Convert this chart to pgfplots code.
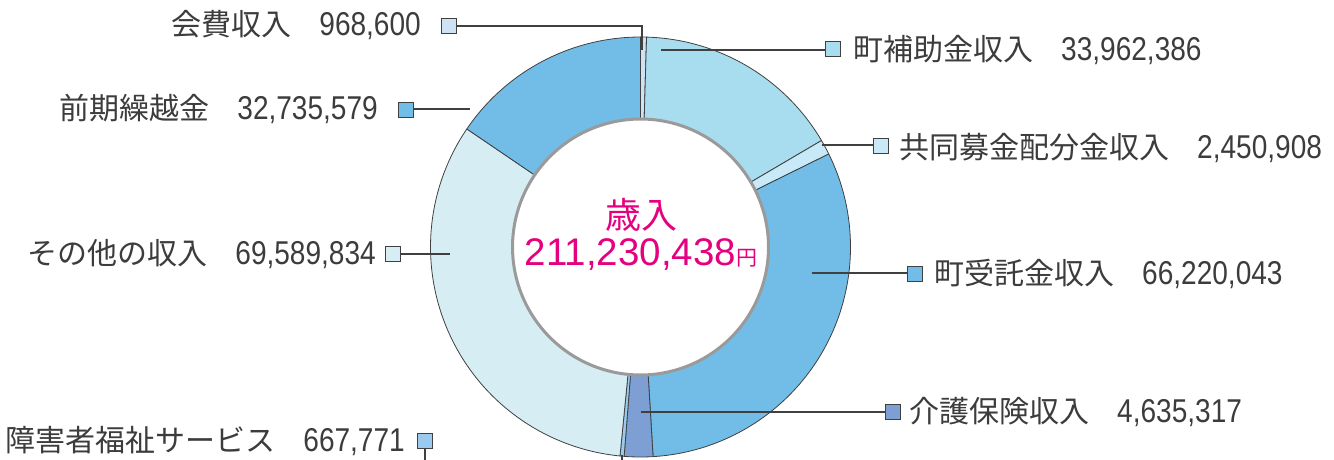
\documentclass[border=0pt]{standalone}
\usepackage{pgfplots}
\pgfplotsset{compat=1.18}
\usepackage{pgfplotstable}
\usepackage{fontspec}
\setmainfont{Noto Sans CJK JP}
\newfontfamily\jpfont{Noto Sans CJK JP}
\newfontfamily\numfont[FakeStretch=0.85]{Liberation Sans}
\newfontfamily\bignumfont{Liberation Sans}

\definecolor{txt}{HTML}{3C3C3C}
\definecolor{edge}{HTML}{404040}
\definecolor{ring}{HTML}{9A9A9A}
\definecolor{pink}{HTML}{E5007F}
\definecolor{c0}{HTML}{CFE2F3}
\definecolor{c1}{HTML}{A8DDF0}
\definecolor{c2}{HTML}{C8EAF8}
\definecolor{c3}{HTML}{72BDE7}
\definecolor{c4}{HTML}{7D9FD3}
\definecolor{c5}{HTML}{9CCAEE}
\definecolor{c6}{HTML}{D6EEF3}
\definecolor{c7}{HTML}{72BDE7}

% income (yen), clockwise from 12 o'clock
\pgfplotstableread{
id value
0 968600
1 33962386
2 2450908
3 66220043
4 4635317
5 667771
6 69589834
7 32735579
}\income

\def\acc{0}
\def\total{0}
\pgfplotsforeachungrouped \i in {0,...,7}{%
  \pgfplotstablegetelem{\i}{value}\of\income
  \xdef\total{\fpeval{\total+\pgfplotsretval}}%
}
\pgfplotsforeachungrouped \i in {0,...,7}{%
  \pgfplotstablegetelem{\i}{value}\of\income
  \expandafter\xdef\csname s\i\endcsname{\fpeval{round(360*\acc/\total,4)}}%
  \xdef\acc{\fpeval{\acc+\pgfplotsretval}}%
  \expandafter\xdef\csname e\i\endcsname{\fpeval{round(360*\acc/\total,4)}}%
}

\newcommand\lab[1]{{\jpfont\fontsize{30}{34}\selectfont #1}}
\newcommand\nm[1]{{\numfont\fontsize{33}{36}\selectfont #1}}

\begin{document}
\begin{tikzpicture}
\begin{axis}[x=1pt,y=1pt,xmin=0,xmax=1334,ymin=0,ymax=460,y dir=reverse,
  hide axis, clip=false, samples=120, scale only axis]
\pgfplotsinvokeforeach{0,...,7}{%
  \edef\doslice{\noexpand\addplot[fill=c#1, draw=edge, line width=0.8pt, line join=round, domain=\csname s#1\endcsname:\csname e#1\endcsname]}%
  \doslice ({640.5+210*sin(x)},{247-210*cos(x)}) -- (axis cs:640.5,247) -- cycle;
}
\addplot[fill=white, draw=ring, line width=3pt, domain=0:360, samples=180] ({640.5+128*sin(x)},{247-128*cos(x)}) -- cycle;

% leader lines
\addplot[edge, line width=1.1pt] coordinates {(457,26) (642,26) (642,50)};
\addplot[edge, line width=1.1pt] coordinates {(661,50) (825,50)};
\addplot[edge, line width=1.1pt] coordinates {(822,145) (873,145)};
\addplot[edge, line width=1.1pt] coordinates {(812,273) (907,273)};
\addplot[edge, line width=1.1pt] coordinates {(641,412) (885,412)};
\addplot[edge, line width=1.1pt] coordinates {(425,448) (425,460)};
\addplot[edge, line width=1.1pt] coordinates {(622,455) (622,460)};
\addplot[edge, line width=1.1pt] coordinates {(400,254) (450,254)};
\addplot[edge, line width=1.1pt] coordinates {(414,109) (470,109)};

% squares
\addplot[only marks, mark=square*, mark size=7.5pt, mark options={fill=c0, draw=edge, line width=1pt}] coordinates {(448.5,26)};
\addplot[only marks, mark=square*, mark size=7.5pt, mark options={fill=c1, draw=edge, line width=1pt}] coordinates {(833,49.5)};
\addplot[only marks, mark=square*, mark size=7.5pt, mark options={fill=c2, draw=edge, line width=1pt}] coordinates {(880.5,145.5)};
\addplot[only marks, mark=square*, mark size=7.5pt, mark options={fill=c3, draw=edge, line width=1pt}] coordinates {(914.5,273.5)};
\addplot[only marks, mark=square*, mark size=7.5pt, mark options={fill=c4, draw=edge, line width=1pt}] coordinates {(892.5,412)};
\addplot[only marks, mark=square*, mark size=7.5pt, mark options={fill=c5, draw=edge, line width=1pt}] coordinates {(425,440.5)};
\addplot[only marks, mark=square*, mark size=7.5pt, mark options={fill=c6, draw=edge, line width=1pt}] coordinates {(393,254)};
\addplot[only marks, mark=square*, mark size=7.5pt, mark options={fill=c7, draw=edge, line width=1pt}] coordinates {(405.5,109.5)};

% labels
\node[anchor=base east, inner sep=0, text=txt] at (axis cs:421,36) {\lab{会費収入}\hspace{28pt}\nm{968,600}};
\node[anchor=base east, inner sep=0, text=txt] at (axis cs:378,120) {\lab{前期繰越金}\hspace{28pt}\nm{32,735,579}};
\node[anchor=base east, inner sep=0, text=txt] at (axis cs:376,264) {\lab{その他の収入}\hspace{28pt}\nm{69,589,834}};
\node[anchor=base east, inner sep=0, text=txt] at (axis cs:405,451) {\lab{障害者福祉サービス}\hspace{28pt}\nm{667,771}};
\node[anchor=base west, inner sep=0, text=txt] at (axis cs:853,61) {\lab{町補助金収入}\hspace{28pt}\nm{33,962,386}};
\node[anchor=base west, inner sep=0, text=txt] at (axis cs:899,158) {\lab{共同募金配分金収入}\hspace{28pt}\nm{2,450,908}};
\node[anchor=base west, inner sep=0, text=txt] at (axis cs:934,284) {\lab{町受託金収入}\hspace{28pt}\nm{66,220,043}};
\node[anchor=base west, inner sep=0, text=txt] at (axis cs:909,422) {\lab{介護保険収入}\hspace{28pt}\nm{4,635,317}};

% centre
\node[anchor=base, inner sep=0, text=pink] at (axis cs:641,228) {\jpfont\fontsize{36}{40}\selectfont 歳入};
\node[anchor=base, inner sep=0, text=pink] at (axis cs:641,265) {\bignumfont\fontsize{38.5}{42}\selectfont 211,230,438\jpfont\fontsize{21}{24}\selectfont 円};
\end{axis}
\pgfresetboundingbox
\useasboundingbox (current axis.south west) rectangle (current axis.north east);
\end{tikzpicture}
\end{document}
